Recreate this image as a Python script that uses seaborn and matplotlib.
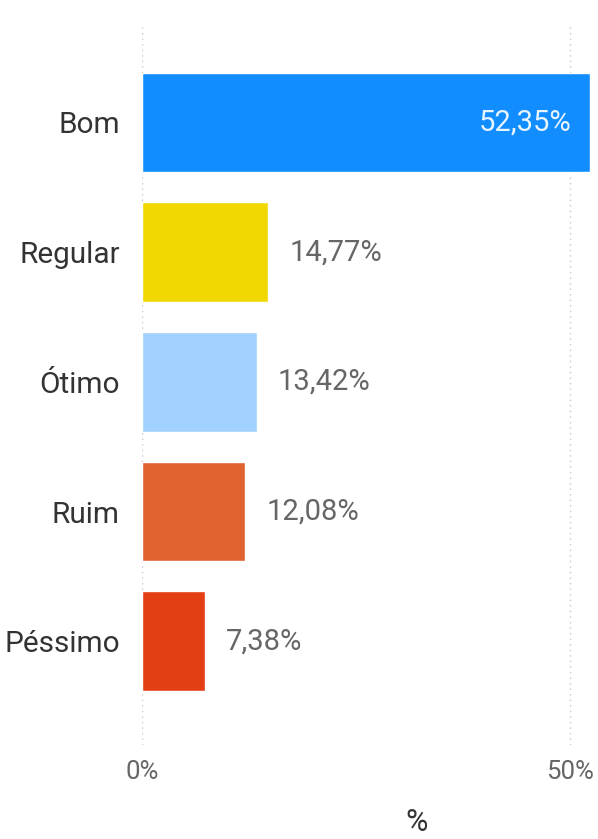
import matplotlib
matplotlib.use("Agg")
import matplotlib.pyplot as plt
import seaborn as sns
import pandas as pd

# data
categorias = ["Bom", "Regular", "Ótimo", "Ruim", "Péssimo"]
percentuais = [52.35, 14.77, 13.42, 12.08, 7.38]
rotulos = ["52,35%", "14,77%", "13,42%", "12,08%", "7,38%"]
cores = ["#118DFF", "#F0D800", "#A0D1FF", "#E0632F", "#E43E15"]
ticks_x = [0, 50]
ticks_x_rot = ["0%", "50%"]

sns.set_theme(style="white")
plt.rcParams['font.family'] = ['Roboto', 'DejaVu Sans']

df = pd.DataFrame({"cat": categorias, "pct": percentuais})

fig = plt.figure(figsize=(5.98, 8.39), dpi=100)
ax = fig.add_axes([0.2375, 0.112, 0.7525, 0.858])

sns.barplot(data=df, x="pct", y="cat", hue="cat", palette=cores,
	legend=False, width=0.77, saturation=1, ax=ax)

ax.set_xlim(0, 52.6)
ax.set_ylim(4.8, -0.75)

# dotted gridlines at tick positions
for t in ticks_x:
	ax.axvline(t, color="#C8C8C8", linestyle=(0, (1, 3)), linewidth=1, zorder=0)

for s in ax.spines.values():
	s.set_visible(False)

ax.set_xticks(ticks_x)
ax.set_xticklabels(ticks_x_rot, color="#666666", fontsize=18.5)
ax.tick_params(axis="x", length=0, pad=11)
ax.tick_params(axis="y", length=0, pad=16, labelsize=21.4, labelcolor="#333333")
ax.set_ylabel("")
ax.set_xlabel("%", fontsize=22, color="#333333")
ax.xaxis.set_label_coords(0.611, -0.087)

# value labels
for i, (v, lab) in enumerate(zip(percentuais, rotulos)):
	if i == 0:
		ax.annotate(lab, (v, i), xytext=(-13, 0), textcoords="offset points",
			ha="right", va="center", fontsize=21, color="#E6F4FF")
	else:
		ax.annotate(lab, (v, i), xytext=(15, 0), textcoords="offset points",
			ha="left", va="center", fontsize=21, color="#666666")

fig.savefig("out.png", dpi=100)
